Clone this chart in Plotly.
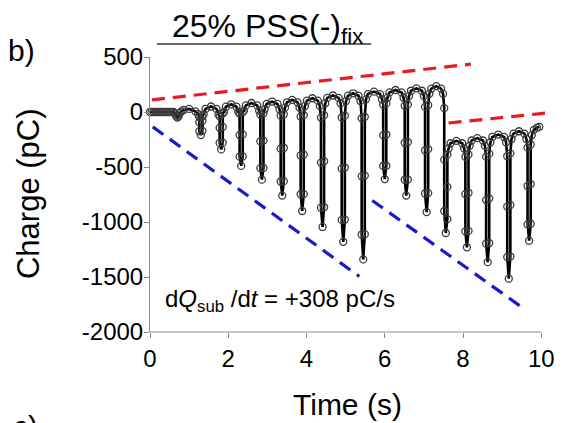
import plotly.graph_objects as go

# ---------------- data ----------------
time_s = [
    # flat start
    0.00, 0.05, 0.10, 0.15, 0.20, 0.25, 0.30, 0.35, 0.40, 0.45, 0.50, 0.55, 0.60,
    # small dip
    0.64, 0.67, 0.70, 0.73, 0.76,
    # arch 1
    0.80, 0.86, 1.00, 1.16, 1.23,
    # spike 2
    1.26, 1.26, 1.26, 1.30, 1.34, 1.34, 1.34,
    1.37, 1.42, 1.56, 1.70, 1.75,
    # spike 3
    1.78, 1.78, 1.78, 1.82, 1.86, 1.86, 1.86,
    1.89, 1.94, 2.075, 2.21, 2.26,
    # spike 4
    2.29, 2.29, 2.29, 2.33, 2.37, 2.37, 2.37,
    2.40, 2.45, 2.595, 2.74, 2.79,
    # spike 5
    2.82, 2.82, 2.82, 2.86, 2.90, 2.90, 2.90,
    2.93, 2.98, 3.12, 3.26, 3.31,
    # spike 6
    3.34, 3.34, 3.34, 3.38, 3.42, 3.42, 3.42,
    3.45, 3.50, 3.635, 3.77, 3.82,
    # spike 7
    3.85, 3.85, 3.85, 3.89, 3.93, 3.93, 3.93,
    3.96, 4.01, 4.15, 4.29, 4.34,
    # spike 8
    4.37, 4.37, 4.37, 4.41, 4.45, 4.45, 4.45,
    4.48, 4.53, 4.675, 4.82, 4.87,
    # spike 9
    4.90, 4.90, 4.90, 4.94, 4.98, 4.98, 4.98,
    5.01, 5.06, 5.195, 5.33, 5.38,
    # spike 10
    5.41, 5.41, 5.41, 5.45, 5.49, 5.49, 5.49,
    5.52, 5.57, 5.725, 5.88, 5.93,
    # spike 11
    5.96, 5.96, 5.96, 6.00, 6.04, 6.04, 6.04,
    6.07, 6.12, 6.275, 6.43, 6.48,
    # spike 12
    6.51, 6.51, 6.51, 6.55, 6.59, 6.59, 6.59,
    6.62, 6.67, 6.81, 6.95, 7.00,
    # spike 13
    7.03, 7.03, 7.03, 7.07, 7.11, 7.11, 7.11,
    7.14, 7.19, 7.315, 7.44, 7.49,
    # spike 14 (drop)
    7.52, 7.52, 7.52, 7.56, 7.60, 7.60, 7.60,
    7.63, 7.68, 7.83, 7.98, 8.03,
    # spike 15
    8.06, 8.06, 8.06, 8.10, 8.14, 8.14, 8.14,
    8.17, 8.22, 8.365, 8.51, 8.56,
    # spike 16
    8.59, 8.59, 8.59, 8.63, 8.67, 8.67, 8.67,
    8.70, 8.75, 8.90, 9.05, 9.10,
    # spike 17
    9.13, 9.13, 9.13, 9.17, 9.21, 9.21, 9.21,
    9.24, 9.29, 9.43, 9.57, 9.62,
    # spike 18
    9.65, 9.65, 9.65, 9.69, 9.73, 9.73, 9.73,
    9.76, 9.81, 9.89, 9.95,
]

charge_pC = [
    0, 0, 0, 0, 0, 0, 0, 0, 0, 0, 0, 0, 0,
    -15, -40, -50, -40, -10,
    5, 18, 28, 6, -20,
    -45, -91, -174, -210, -171, -80, -40,
    -20, 28, 50, 28, -20,
    -40, -145, -281, -340, -279, -135, -15,
    0, 48, 70, 48, 0,
    -14, -210, -406, -490, -404, -204, -4,
    12, 60, 82, 60, 12,
    -23, -267, -510, -615, -508, -260, -11,
    25, 73, 95, 73, 25,
    -33, -333, -632, -760, -629, -325, -20,
    40, 88, 110, 88, 40,
    -42, -395, -748, -900, -746, -387, -29,
    55, 103, 125, 103, 55,
    -51, -460, -870, -1045, -866, -448, -29,
    80, 128, 150, 128, 80,
    -50, -515, -981, -1180, -978, -505, -33,
    100, 148, 170, 148, 100,
    -57, -585, -1114, -1340, -1111, -578, -44,
    115, 163, 185, 163, 115,
    66, -213, -491, -610, -489, -205, 78,
    130, 178, 200, 178, 130,
    56, -280, -616, -760, -614, -273, 69,
    145, 193, 215, 193, 145,
    46, -348, -741, -910, -738, -338, 63,
    165, 213, 235, 213, 165,
    35, -433, -900, -1100, -974, -681, -388,
    -332, -284, -262, -284, -332,
    -407, -746, -1085, -1230, -1081, -734, -386,
    -307, -259, -237, -259, -307,
    -406, -801, -1196, -1365, -1191, -785, -379,
    -275, -227, -205, -227, -275,
    -402, -860, -1319, -1515, -1314, -845, -376,
    -245, -197, -175, -197, -245,
    -324, -673, -1021, -1170, -1016, -655, -295,
    -210, -162, -142, -135,
]

red1_t = [0.05, 8.2]
red1_q = [110, 435]
red2_t = [7.63, 10.25]
red2_q = [-100, -5]
blue1_t = [0.07, 5.35]
blue1_q = [-135, -1495]
blue2_t = [5.68, 9.57]
blue2_q = [-804, -1792]

x_ticks = [0, 2, 4, 6, 8, 10]
y_ticks = [-2000, -1500, -1000, -500, 0, 500]

FONT = "Liberation Sans, Arial, sans-serif"
RED = "#ea1a22"
BLUE = "#1a1acc"
AXC = "#8a8a8a"

fig = go.Figure()

dash = "13px,8px"
for tx, qy, col in [(red1_t, red1_q, RED), (red2_t, red2_q, RED),
                    (blue1_t, blue1_q, BLUE), (blue2_t, blue2_q, BLUE)]:
    fig.add_trace(go.Scatter(x=tx, y=qy, mode="lines",
                             line=dict(color=col, width=3.2, dash=dash),
                             showlegend=False, hoverinfo="skip"))

fig.add_trace(go.Scatter(
    x=time_s, y=charge_pC, mode="lines+markers",
    line=dict(color="black", width=2.6),
    marker=dict(symbol="circle-open", size=7, color="#3a3a3a",
                line=dict(width=1.3, color="#3a3a3a")),
    showlegend=False, cliponaxis=False))

fig.update_layout(
    width=562, height=423,
    margin=dict(l=142, r=17, t=49, b=99),
    paper_bgcolor="white", plot_bgcolor="white",
    font=dict(family=FONT, size=23, color="black"),
    showlegend=False,
)

fig.update_xaxes(range=[0, 10.3], tickvals=x_ticks, ticktext=[str(v) for v in x_ticks],
                 showline=False, showgrid=False, zeroline=False,
                 ticks="outside", ticklen=5, tickcolor=AXC, tickwidth=1,
                 tickfont=dict(size=24, family=FONT))
fig.update_yaxes(range=[-2000, 500], tickvals=y_ticks, ticktext=[str(v) for v in y_ticks],
                 showline=True, linecolor=AXC, linewidth=1, showgrid=False, zeroline=False,
                 ticks="outside", ticklen=5, tickcolor=AXC, tickwidth=1,
                 ticklabelstandoff=-4,
                 tickfont=dict(size=24, family=FONT))

# x axis line only up to 10
fig.add_shape(type="line", xref="x", yref="paper", x0=0, x1=10, y0=0, y1=0,
              line=dict(color=AXC, width=1))
# title underline
fig.add_shape(type="line", xref="paper", yref="paper", x0=0.0174, x1=0.549, y0=1.047, y1=1.047,
              line=dict(color="#333333", width=1.5))

fig.add_annotation(text="25% PSS(-)<sub>fix</sub>", xref="paper", yref="paper",
                   x=0.292, y=1.102, xanchor="center", yanchor="middle", showarrow=False,
                   font=dict(size=32, family=FONT))
fig.add_annotation(text="b)", xref="paper", yref="paper", x=-0.318, y=1.025,
                   xanchor="center", yanchor="middle", showarrow=False,
                   font=dict(size=30, family=FONT))
fig.add_annotation(text="c)", xref="paper", yref="paper", x=-0.31, y=-0.345,
                   xanchor="center", yanchor="middle", showarrow=False,
                   font=dict(size=30, family=FONT))
fig.add_annotation(text="Charge (pC)", xref="paper", yref="paper", x=-0.303, y=0.505,
                   textangle=-90, xanchor="center", yanchor="middle", showarrow=False,
                   font=dict(size=31, family=FONT))
fig.add_annotation(text="Time (s)", xref="paper", yref="paper", x=0.489, y=-0.265,
                   xanchor="center", yanchor="middle", showarrow=False,
                   font=dict(size=30, family=FONT))
fig.add_annotation(text="d<i>Q</i><sub>sub</sub> /d<i>t</i> = +308 pC/s", xref="x", yref="y",
                   x=0.33, y=-1710, xanchor="left", yanchor="middle", showarrow=False,
                   font=dict(size=24, family=FONT))

fig.write_html("out.html")
